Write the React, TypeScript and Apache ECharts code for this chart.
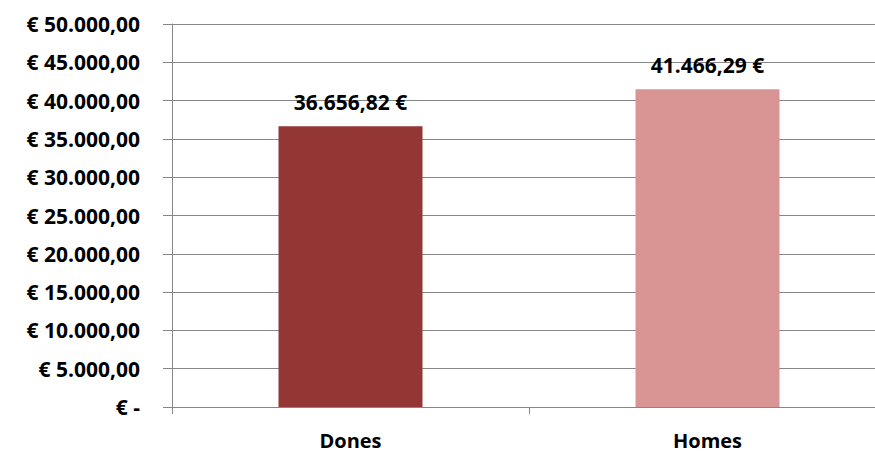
import React, { useEffect, useRef } from "react";
import * as echarts from "echarts";

const categories = ["Dones", "Homes"];
const values = [36656.82, 41466.29];
const barColors = ["#943634", "#D99594"];
const yTicks = [0, 5000, 10000, 15000, 20000, 25000, 30000, 35000, 40000, 45000, 50000];

function fmtAxis(v: number): string {
  if (v === 0) return "€ -";
  const s = v.toFixed(2).split(".");
  const int = s[0].replace(/\B(?=(\d{3})+(?!\d))/g, ".");
  return "€ " + int + "," + s[1];
}
function fmtLabel(v: number): string {
  const s = v.toFixed(2).split(".");
  const int = s[0].replace(/\B(?=(\d{3})+(?!\d))/g, ".");
  return int + "," + s[1] + " €";
}

export default function App() {
  const ref = useRef<HTMLDivElement>(null);
  useEffect(() => {
    if (!ref.current) return;
    const chart = echarts.init(ref.current, null, { renderer: "svg" });
    const font = "'Open Sans', 'Liberation Sans', sans-serif";
    chart.setOption({
      animation: false,
      grid: { left: 172, right: 0, top: 24, bottom: 45, containLabel: false },
      xAxis: {
        type: "category",
        data: categories,
        boundaryGap: true,
        axisLine: { lineStyle: { color: "#868686", width: 1 } },
        axisTick: { show: true, length: 7, lineStyle: { color: "#868686" } },
        axisLabel: {
          color: "#000",
          fontWeight: "bold",
          fontSize: 20,
          lineHeight: 20,
          fontFamily: font,
          margin: 23,
        },
      },
      yAxis: {
        type: "value",
        min: yTicks[0],
        max: yTicks[yTicks.length - 1],
        interval: 5000,
        axisLine: { show: true, lineStyle: { color: "#868686" } },
        axisTick: { show: true, length: 9, inside: false, lineStyle: { color: "#868686" } },
        splitLine: { lineStyle: { color: "#868686", width: 1 } },
        axisLabel: {
          color: "#000",
          fontWeight: "bold",
          fontSize: 21,
          fontFamily: font,
          margin: 32,
          formatter: (v: number) => fmtAxis(v),
        },
      },
      series: [
        {
          type: "bar",
          data: values.map((v, i) => ({ value: v, itemStyle: { color: barColors[i] } })),
          barWidth: 144,
          label: {
            show: true,
            position: "top",
            distance: 14,
            color: "#000",
            fontWeight: "bold",
            fontSize: 21,
            fontFamily: font,
            formatter: (p: any) => fmtLabel(p.value),
          },
        },
      ],
    });
    return () => chart.dispose();
  }, []);
  return (
    <div style={{ position: "fixed", left: 0, top: 0, width: 875, height: 452, overflow: "hidden", background: "#fff" }}>
      <div ref={ref} style={{ width: 886, height: 452 }} />
    </div>
  );
}
